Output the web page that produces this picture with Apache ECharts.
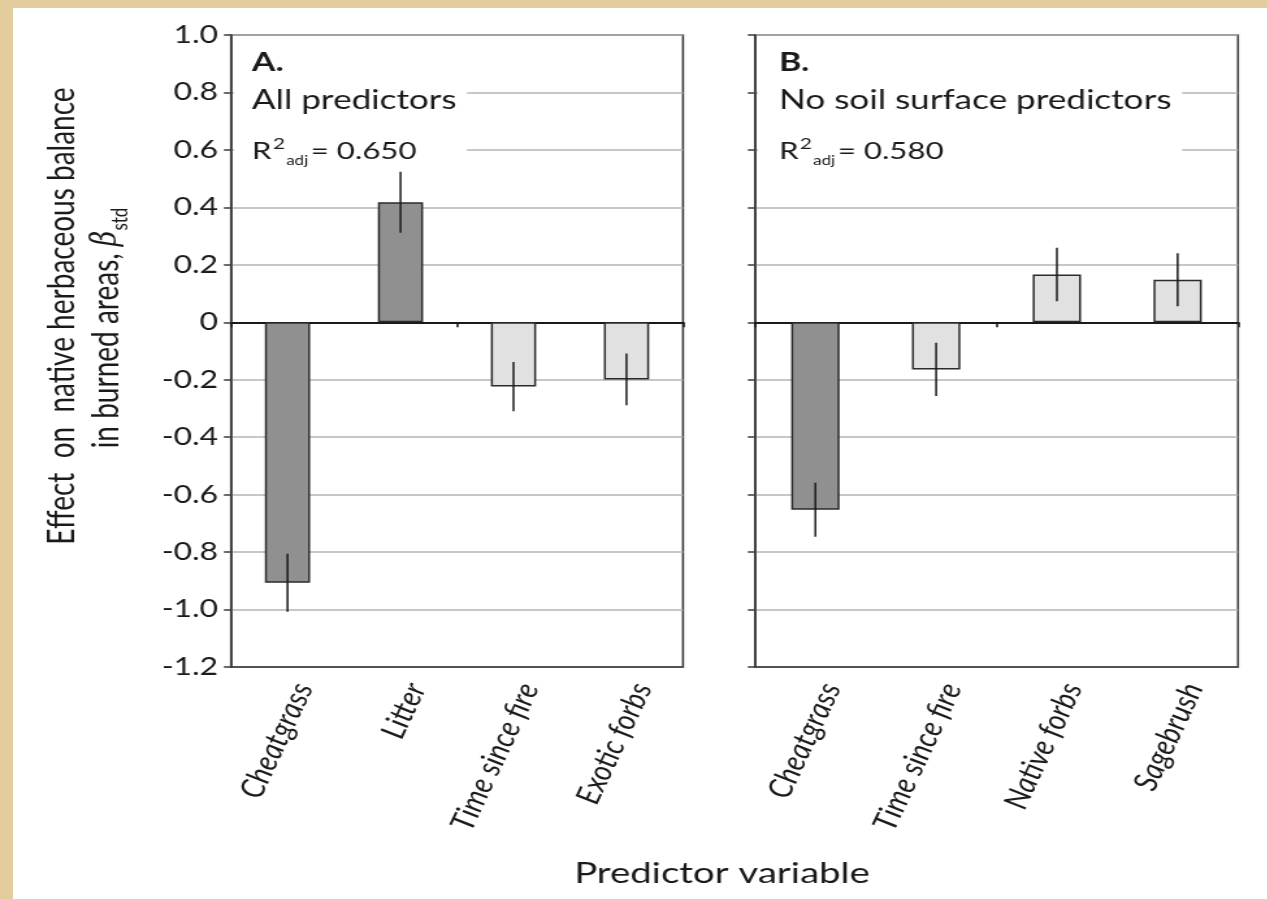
<!DOCTYPE html>
<html>
<head>
<meta charset="utf-8">
<script src="https://cdn.jsdelivr.net/npm/echarts/dist/echarts.min.js"></script>
<style>
html, body { margin: 0; padding: 0; width: 1267px; height: 899px; overflow: hidden; background: #e3cd9d; }
#panel { position: absolute; left: 13px; top: 8px; width: 1254px; height: 891px; background: #ffffff; }
#chart { position: absolute; left: 0; top: 0; width: 975px; height: 899px; transform: scaleX(1.3); transform-origin: 0 0; }
</style>
</head>
<body>
<div id="panel"></div>
<div id="chart"></div>
<script>
// ---------------- data ----------------
const categoriesA = ['Cheatgrass', 'Litter', 'Time since fire', 'Exotic forbs'];
const valuesA = [-0.907, 0.418, -0.224, -0.199];
const errorsA = [0.101, 0.106, 0.086, 0.090];
const darkA = [true, true, false, false];

const categoriesB = ['Cheatgrass', 'Time since fire', 'Native forbs', 'Sagebrush'];
const valuesB = [-0.653, -0.164, 0.166, 0.148];
const errorsB = [0.094, 0.093, 0.093, 0.092];
const darkB = [true, false, false, false];

const yMin = -1.2;
const yMax = 1.0;
const yStep = 0.2;

const panelTitleA = 'A.';
const panelSubA = 'All predictors';
const r2A = '0.650';
const panelTitleB = 'B.';
const panelSubB = 'No soil surface predictors';
const r2B = '0.580';

const yTitleLine1 = 'Effect  on  native herbaceous balance';
const yTitleLine2 = 'in burned areas, ';
const xTitle = 'Predictor variable';

// ---------------- layout helpers ----------------
const S = 1.3;                 // horizontal stretch applied by CSS
const sx = v => v / S;         // page x -> chart x
const FONT = 'Lato, "Open Sans", sans-serif';
const DARK = '#909090';
const LIGHT = '#e1e1e1';
const INK = '#1a1a1a';

const chart = echarts.init(document.getElementById('chart'), null, { renderer: 'canvas' });

function yAxisCfg(gridIndex, showLabels) {
  return {
    type: 'value', gridIndex: gridIndex, min: yMin, max: yMax, interval: yStep,
    axisLine: { show: true, lineStyle: { color: '#3a3a3a', width: 1.6 } },
    axisTick: { show: true, inside: false, length: 5.5, lineStyle: { color: '#3a3a3a', width: 1.5 } },
    splitLine: { show: true, lineStyle: { color: '#b4b4b4', width: 1.5 } },
    axisLabel: {
      show: showLabels, margin: 10, fontFamily: FONT, fontSize: 24.5, color: INK,
      formatter: v => (Math.abs(v) < 1e-9 ? '0' : v.toFixed(1))
    }
  };
}

function zeroAxis(gridIndex, cats) {
  return {
    type: 'category', gridIndex: gridIndex, data: cats, position: 'bottom',
    axisLine: { show: true, onZero: true, lineStyle: { color: '#1a1a1a', width: 2 } },
    axisTick: { show: true, inside: false, length: 5, lineStyle: { color: '#1a1a1a', width: 1.6 } },
    axisLabel: { show: false },
    splitLine: { show: false }
  };
}

function labelAxis(gridIndex, cats) {
  return {
    type: 'category', gridIndex: gridIndex, data: cats, position: 'bottom',
    axisLine: { show: true, onZero: false, lineStyle: { color: '#3a3a3a', width: 1.6 } },
    axisTick: { show: false },
    splitLine: { show: false },
    axisLabel: {
      show: true, interval: 0, rotate: 70, margin: 13,
      align: 'right', verticalAlign: 'top',
      fontFamily: FONT, fontStyle: 'italic', fontSize: 26, color: INK
    }
  };
}

function barSeries(axisIdx, gridIdx, vals, dark) {
  return {
    type: 'bar', xAxisIndex: axisIdx, yAxisIndex: gridIdx, barWidth: '40%', z: 2,
    itemStyle: { borderColor: '#2b2b2b', borderWidth: 1.5 },
    data: vals.map((v, i) => ({ value: v, itemStyle: { color: dark[i] ? DARK : LIGHT } }))
  };
}

function errSeries(axisIdx, gridIdx, vals, errs) {
  return {
    type: 'custom', xAxisIndex: axisIdx, yAxisIndex: gridIdx, z: 5,
    data: vals.map((v, i) => [i, v, errs[i]]),
    renderItem: function (params, api) {
      const hi = api.coord([api.value(0), api.value(1) + api.value(2)]);
      const lo = api.coord([api.value(0), api.value(1) - api.value(2)]);
      return {
        type: 'line',
        shape: { x1: hi[0], y1: hi[1], x2: lo[0], y2: lo[1] },
        style: { stroke: '#1a1a1a', lineWidth: 1.5 }
      };
    }
  };
}

function r2Text(val) {
  return '{r|R}{sup|2}{sub|adj}{r|= ' + val + '}';
}
const r2Rich = {
  r: { fontFamily: FONT, fontSize: 24, fill: INK, lineHeight: 30, verticalAlign: 'middle' },
  sup: { fontFamily: FONT, fontSize: 16, fill: INK, lineHeight: 30, verticalAlign: 'top', padding: [0, 1, 0, 1] },
  sub: { fontFamily: FONT, fontSize: 13, fill: INK, lineHeight: 30, verticalAlign: 'bottom', padding: [0, 2, -1, 0] }
};

const option = {
  animation: false,
  backgroundColor: 'transparent',
  grid: [
    { left: sx(231), top: 35, width: sx(683 - 231), height: 632, show: true, borderColor: '#3a3a3a', borderWidth: 1.6, backgroundColor: 'transparent' },
    { left: sx(755), top: 35, width: sx(1238 - 755), height: 632, show: true, borderColor: '#3a3a3a', borderWidth: 1.6, backgroundColor: 'transparent' }
  ],
  xAxis: [
    zeroAxis(0, categoriesA), labelAxis(0, categoriesA),
    zeroAxis(1, categoriesB), labelAxis(1, categoriesB)
  ],
  yAxis: [yAxisCfg(0, true), yAxisCfg(1, false)],
  series: [
    barSeries(0, 0, valuesA, darkA),
    errSeries(0, 0, valuesA, errorsA),
    barSeries(2, 1, valuesB, darkB),
    errSeries(2, 1, valuesB, errorsB)
  ],
  graphic: [
    // white boxes behind panel text (gridlines stop short of the text)
    { type: 'rect', z: 50, shape: { x: sx(234), y: 37, width: sx(467) - sx(234), height: 131 }, style: { fill: '#ffffff' } },
    { type: 'rect', z: 50, shape: { x: sx(758), y: 37, width: sx(1182) - sx(758), height: 131 }, style: { fill: '#ffffff' } },
    // panel A text
    { type: 'text', z: 60, x: sx(252), y: 63, style: { text: panelTitleA, fontFamily: FONT, fontWeight: 'bold', fontSize: 26, fill: INK, textVerticalAlign: 'middle' } },
    { type: 'text', z: 60, x: sx(252), y: 100, style: { text: panelSubA, fontFamily: FONT, fontSize: 27, fill: INK, textVerticalAlign: 'middle' } },
    { type: 'text', z: 60, x: sx(252), y: 151, style: { text: r2Text(r2A), rich: r2Rich, textVerticalAlign: 'middle' } },
    // panel B text
    { type: 'text', z: 60, x: sx(779), y: 63, style: { text: panelTitleB, fontFamily: FONT, fontWeight: 'bold', fontSize: 26, fill: INK, textVerticalAlign: 'middle' } },
    { type: 'text', z: 60, x: sx(779), y: 100, style: { text: panelSubB, fontFamily: FONT, fontSize: 27, fill: INK, textVerticalAlign: 'middle' } },
    { type: 'text', z: 60, x: sx(779), y: 151, style: { text: r2Text(r2B), rich: r2Rich, textVerticalAlign: 'middle' } },
    // y axis title (two lines)
    { type: 'text', z: 60, x: sx(62), y: 316, rotation: Math.PI / 2,
      style: { text: yTitleLine1, fontFamily: FONT, fontSize: 28, fill: INK, textAlign: 'center', textVerticalAlign: 'middle' } },
    { type: 'text', z: 60, x: sx(107), y: 328, rotation: Math.PI / 2,
      style: {
        text: '{t|' + yTitleLine2 + '}{b|β}{s|std}',
        textAlign: 'center', textVerticalAlign: 'middle',
        rich: {
          t: { fontFamily: FONT, fontSize: 28, fill: INK, lineHeight: 36, verticalAlign: 'middle' },
          b: { fontFamily: '"DejaVu Serif", serif', fontStyle: 'italic', fontSize: 27, fill: INK, lineHeight: 36, verticalAlign: 'middle' },
          s: { fontFamily: FONT, fontSize: 17, fill: INK, lineHeight: 36, verticalAlign: 'bottom', padding: [0, 0, -1, 0] }
        }
      } },
    // x axis title
    { type: 'text', z: 60, x: sx(722), y: 873,
      style: { text: xTitle, fontFamily: FONT, fontSize: 29.5, fill: INK, textAlign: 'center', textVerticalAlign: 'middle' } }
  ]
};

chart.setOption(option);
</script>
</body>
</html>
